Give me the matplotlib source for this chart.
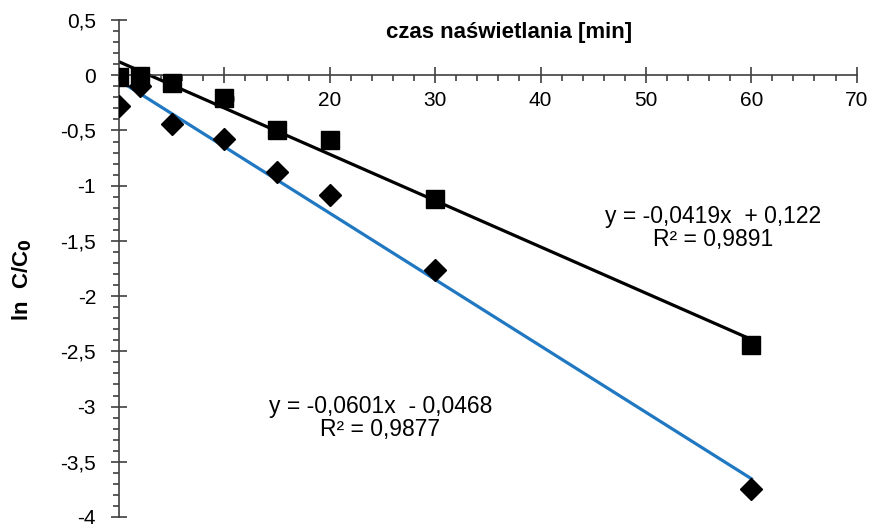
import matplotlib
matplotlib.use("Agg")
import matplotlib.pyplot as plt
from matplotlib.ticker import MultipleLocator, FixedLocator
import numpy as np

plt.rcParams["font.family"] = ["Liberation Sans", "DejaVu Sans"]

# ─── Data ─────────────────────────────────────────────────────────────────────

time_min = [0, 2, 5, 10, 15, 20, 30, 60]
ln_squares = [-0.02, -0.01, -0.07, -0.21, -0.50, -0.59, -1.12, -2.44]
ln_diamonds = [-0.28, -0.10, -0.44, -0.58, -0.88, -1.08, -1.76, -3.75]

fit_squares = (-0.0419, 0.122)
fit_diamonds = (-0.0601, -0.0468)

x_ticks = [10, 20, 30, 40, 50, 60, 70]
y_ticks = [0.5, 0, -0.5, -1, -1.5, -2, -2.5, -3, -3.5, -4]

# ─── Figure ───────────────────────────────────────────────────────────────────

fig = plt.figure(figsize=(8.75, 5.27), dpi=100)
ax = fig.add_axes([0.136, 0.019, 0.843, 0.943])

ax.set_xlim(0, 70)
ax.set_ylim(-4, 0.5)

# trend lines
xf = np.array([0, 60])
ax.plot(xf, fit_squares[0] * xf + fit_squares[1], color="black", lw=2.3, zorder=2)
ax.plot(xf, fit_diamonds[0] * xf + fit_diamonds[1], color="#1f78c1", lw=2.3, zorder=2)

# points
ax.plot(time_min, ln_diamonds, ls="none", marker="D", ms=11, color="black", zorder=3)
ax.plot(time_min, ln_squares, ls="none", marker="s", ms=13, color="black", zorder=4)

# axes through origin
ax.spines["top"].set_visible(False)
ax.spines["right"].set_visible(False)
ax.spines["left"].set_position(("data", 0))
ax.spines["bottom"].set_position(("data", 0))
for s in ("left", "bottom"):
    ax.spines[s].set_color("#404040")
    ax.spines[s].set_linewidth(1.2)

ax.xaxis.set_major_locator(FixedLocator(x_ticks))
ax.xaxis.set_minor_locator(MultipleLocator(2))
ax.set_xticklabels([str(v) for v in x_ticks])
ax.yaxis.set_major_locator(FixedLocator(y_ticks))
ax.yaxis.set_minor_locator(MultipleLocator(0.1))
ax.set_yticklabels([("%g" % v).replace(".", ",") for v in y_ticks])

ax.tick_params(axis="both", which="major", direction="inout", length=11,
               width=1.2, color="#404040", labelsize=15, labelcolor="black")
ax.tick_params(axis="both", which="minor", direction="out", length=4,
               width=1.2, color="#404040")
ax.tick_params(axis="x", which="major", pad=6)
ax.tick_params(axis="y", which="major", pad=11)

# labels
ax.text(37, 0.39, "czas naświetlania [min]", ha="center", va="center",
        fontsize=16, fontweight="bold")
fig.text(0.025, 0.47, "ln  C/C$_\\mathbf{0}$", rotation=90, ha="center",
         va="center", fontsize=16, fontweight="bold")

ax.text(56.4, -1.38, "y = -0,0419x  + 0,122\nR² = 0,9891", ha="center",
        va="center", fontsize=16.5, linespacing=1.0)
ax.text(24.8, -3.10, "y = -0,0601x  - 0,0468\nR² = 0,9877", ha="center",
        va="center", fontsize=16.5, linespacing=1.0)

fig.savefig("out.png", dpi=100, facecolor="white")
